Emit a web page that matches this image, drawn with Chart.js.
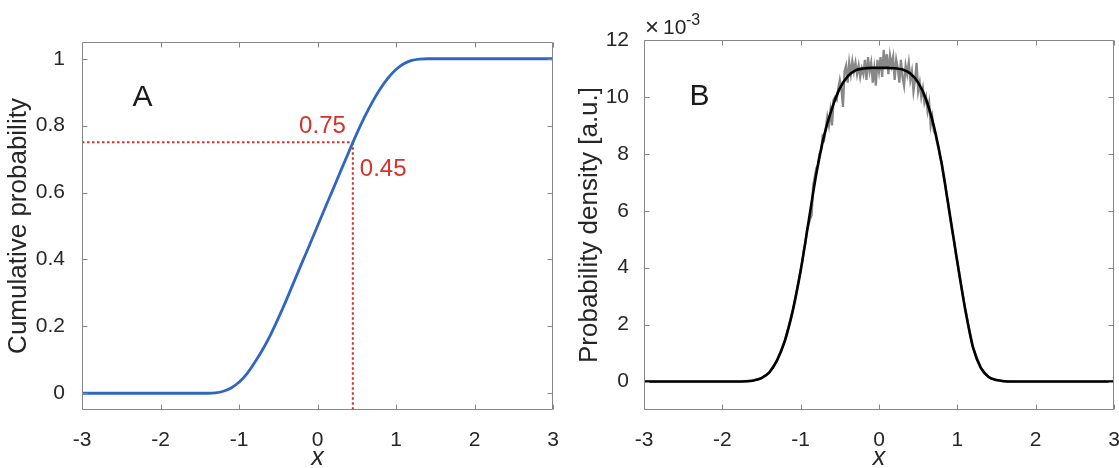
<!DOCTYPE html>
<html>
<head>
<meta charset="utf-8">
<script src="https://cdn.jsdelivr.net/npm/chart.js@4.4.1/dist/chart.umd.min.js"></script>
<style>
  html, body { margin: 0; padding: 0; background: #ffffff; }
  #wrap { position: relative; width: 1119px; height: 468px; background: #ffffff; overflow: hidden; }
  canvas { position: absolute; top: 0; }
</style>
</head>
<body>
<div id="wrap">
  <canvas id="chartA" width="560" height="468" style="left:0px"></canvas>
  <canvas id="chartB" width="559" height="468" style="left:560px"></canvas>
</div>
<script>
// ---------- data ----------
const xTicks = [-3, -2, -1, 0, 1, 2, 3];
const xRange = [-3, 3];

// Panel A: cumulative probability
const cdfX = [-3, -1.4, -1.3, -1.2, -1.1, -1.0, -0.9, -0.8, -0.7, -0.6, -0.5, -0.4, -0.3, -0.2, -0.1, 0,
              0.1, 0.2, 0.3, 0.4, 0.5, 0.6, 0.7, 0.8, 0.9, 1.0, 1.1, 1.2, 1.3, 1.4, 3];
const cdfY = [0, 0, 0.001, 0.006, 0.016, 0.033, 0.058, 0.092, 0.13, 0.174, 0.224, 0.277, 0.333, 0.389, 0.444, 0.5,
              0.556, 0.611, 0.667, 0.722, 0.776, 0.826, 0.871, 0.910, 0.943, 0.968, 0.985, 0.995, 0.999, 1, 1];
const yTicksA = [0, 0.2, 0.4, 0.6, 0.8, 1];
const yRangeA = [-0.05, 1.05];
const markX = 0.45;   // quantile
const markY = 0.75;   // probability

// Panel B: probability density (x 10^-3)
const pdfX = [-3, -1.8, -1.7, -1.6, -1.5, -1.4, -1.3, -1.2, -1.1, -1.0, -0.9, -0.8, -0.7, -0.6, -0.5, -0.4, -0.3, -0.2, -0.1, 0,
              0.1, 0.2, 0.3, 0.4, 0.5, 0.6, 0.7, 0.8, 0.9, 1.0, 1.1, 1.2, 1.3, 1.4, 1.5, 1.6, 1.7, 1.8, 3];
const pdfY = [0, 0, 0.01, 0.04, 0.12, 0.32, 0.75, 1.45, 2.5, 3.9, 5.6, 7.3, 8.65, 9.6, 10.3, 10.72, 10.93, 11.0, 11.02, 11.02,
              11.02, 11.01, 10.96, 10.82, 10.5, 9.92, 8.98, 7.65, 5.95, 4.2, 2.55, 1.2, 0.48, 0.16, 0.05, 0.01, 0, 0, 0];
// noisy histogram estimate, bins of 0.02 from -1.00 to 1.00
const histStart = -1.0;
const histStep = 0.02;
const histY = [3.9, 4.2, 4.6, 4.85, 5.3, 5.5, 5.7, 5.85, 6.9, 7.2,
               7.5, 7.6, 8.0, 8.1, 8.6, 8.5, 8.9, 9.3, 9.0, 9.5,
               9.0, 9.9, 10.0, 9.9, 10.3, 10.6, 10.3, 9.65, 10.9, 11.1,
               10.5, 11.2, 10.8, 11.25, 10.9, 11.2, 10.8, 11.1, 10.7, 11.0,
               10.8, 11.3, 10.6, 11.4, 10.9, 11.2, 10.5, 11.0, 10.4, 11.3,
               10.9, 11.4, 10.7, 11.65, 11.0, 11.5, 10.8, 11.45, 11.1, 11.4,
               10.6, 11.3, 11.0, 10.5, 11.3, 10.7, 10.4, 11.1, 10.8, 11.2,
               10.6, 10.9, 10.2, 10.6, 11.2, 10.2, 10.5, 10.0, 10.3, 9.8,
               10.0, 9.5, 9.8, 9.0, 9.3, 8.8, 8.7, 8.4, 8.2, 7.9,
               7.7, 7.3, 7.0, 6.6, 6.3, 5.9, 5.55, 5.2, 4.9, 4.5,
               4.2];
const yTicksB = [0, 2, 4, 6, 8, 10, 12];
const yRangeB = [-1, 12];

// ---------- style ----------
const FONT = "'Liberation Sans', Arial, Helvetica, sans-serif";
const AXIS_COLOR = '#868686';
const TEXT_COLOR = '#262626';
const RED = '#d9302c';

Chart.defaults.font.family = FONT;

const pts = (xs, ys) => xs.map((x, i) => ({ x: x, y: ys[i] }));

const framePlugin = {
  id: 'frame',
  afterDatasetsDraw(chart) {
    const { ctx, chartArea: a, scales: { x, y } } = chart;
    ctx.save();
    ctx.strokeStyle = AXIS_COLOR;
    ctx.lineWidth = 1;
    const L = Math.round(a.left) + 0.5, R = Math.round(a.right) - 0.5;
    const T = Math.round(a.top) + 0.5, B = Math.round(a.bottom) - 0.5;
    ctx.beginPath();
    ctx.rect(L, T, R - L, B - T);
    x.ticks.forEach(t => {
      const px = Math.round(x.getPixelForValue(t.value)) + 0.5;
      ctx.moveTo(px, B); ctx.lineTo(px, B - 5);
      ctx.moveTo(px, T); ctx.lineTo(px, T + 5);
    });
    y.ticks.forEach(t => {
      const py = Math.round(y.getPixelForValue(t.value)) + 0.5;
      ctx.moveTo(L, py); ctx.lineTo(L + 5, py);
      ctx.moveTo(R, py); ctx.lineTo(R - 5, py);
    });
    ctx.stroke();
    ctx.restore();
  }
};

const textPlugin = {
  id: 'texts',
  afterDraw(chart, args, opts) {
    const { ctx, scales: { x, y } } = chart;
    ctx.save();
    (opts.items || []).forEach(it => {
      ctx.font = it.font;
      ctx.fillStyle = it.color;
      ctx.textAlign = it.align || 'center';
      ctx.textBaseline = it.baseline || 'middle';
      const px = x.getPixelForValue(it.x) + (it.dx || 0);
      const py = y.getPixelForValue(it.y) + (it.dy || 0);
      ctx.fillText(it.text, px, py);
    });
    if (opts.exponent) {
      const a = chart.chartArea;
      ctx.textAlign = 'left';
      ctx.textBaseline = 'alphabetic';
      ctx.fillStyle = TEXT_COLOR;
      ctx.font = "24px " + FONT;
      ctx.fillText('\u00D7', a.left + 1, a.top - 5);
      ctx.font = "21px " + FONT;
      ctx.fillText('10', a.left + 19, a.top - 6);
      ctx.font = "16px " + FONT;
      ctx.fillText(opts.exponent, a.left + 42, a.top - 15);
    }
    ctx.restore();
  }
};

function makeScales(yTicks, yRange, yTitle, yAxisWidth, yTitlePad, yPad) {
  return {
    x: {
      type: 'linear', min: xRange[0], max: xRange[1],
      afterBuildTicks: s => { s.ticks = xTicks.map(v => ({ value: v })); },
      afterFit: s => { s.height = 58; s.paddingLeft = 0; s.paddingRight = 0; },
      grid: { display: false },
      border: { display: false },
      ticks: { color: TEXT_COLOR, font: { size: 21, lineHeight: 1.2 }, padding: 10, maxRotation: 0, autoSkip: false,
               callback: v => String(v) },
      title: { display: true, text: 'x', color: TEXT_COLOR,
               font: { size: 25, style: 'italic', lineHeight: 0.8 }, padding: { top: 0, bottom: 0 } }
    },
    y: {
      type: 'linear', min: yRange[0], max: yRange[1],
      afterBuildTicks: s => { s.ticks = yTicks.map(v => ({ value: v })); },
      afterFit: s => { s.width = yAxisWidth; s.paddingTop = 0; s.paddingBottom = 0; },
      grid: { display: false },
      border: { display: false },
      ticks: { color: TEXT_COLOR, font: { size: 21 }, padding: yPad, autoSkip: false, callback: v => String(v) },
      title: { display: true, text: yTitle, color: TEXT_COLOR,
               font: { size: 26, lineHeight: 1 }, padding: { top: yTitlePad, bottom: 0 } }
    }
  };
}

const common = {
  responsive: false,
  maintainAspectRatio: false,
  animation: false,
  devicePixelRatio: 1,
  events: [],
  elements: { point: { radius: 0 } },
};

// ---------- Chart A ----------
new Chart(document.getElementById('chartA'), {
  type: 'line',
  data: {
    datasets: [
      { data: pts(cdfX, cdfY), borderColor: '#3066c2', borderWidth: 2.8, cubicInterpolationMode: 'monotone', order: 0 },
      { data: [{ x: xRange[0], y: markY }, { x: markX, y: markY }], borderColor: RED, borderWidth: 2,
        borderDash: [2.5, 2.5], order: 1 },
      { data: [{ x: markX, y: markY }, { x: markX, y: yRangeA[0] }], borderColor: RED, borderWidth: 2,
        borderDash: [2.5, 2.5], order: 1 }
    ]
  },
  options: Object.assign({}, common, {
    layout: { padding: { left: 0, right: 7, top: 42, bottom: 0 } },
    scales: makeScales(yTicksA, yRangeA, 'Cumulative probability', 82, 6, 9),
    plugins: {
      legend: { display: false }, tooltip: { enabled: false },
      texts: {
        items: [
          { text: 'A', x: -2.23, y: 0.884, font: '30px ' + FONT, color: '#1a1a1a' },
          { text: String(markY), x: markX, y: markY, dx: -7, dy: -16, align: 'right', font: '24px ' + FONT, color: RED },
          { text: String(markX), x: markX, y: markY, dx: 7, dy: 27, align: 'left', font: '24px ' + FONT, color: RED }
        ]
      }
    }
  }),
  plugins: [framePlugin, textPlugin]
});

// ---------- Chart B ----------
const histPts = histY.map((v, i) => ({ x: +(histStart + i * histStep).toFixed(2), y: v }));
const histEnd = histStart + (histY.length - 1) * histStep;
const grayData = pts(pdfX, pdfY).filter(p => p.x < histStart - 1e-9)
  .concat(histPts)
  .concat(pts(pdfX, pdfY).filter(p => p.x > histEnd + 1e-9));

new Chart(document.getElementById('chartB'), {
  type: 'line',
  data: {
    datasets: [
      { data: pts(pdfX, pdfY), borderColor: '#000000', borderWidth: 2.6, cubicInterpolationMode: 'monotone', order: 0 },
      { data: grayData, borderColor: '#888888', borderWidth: 2.3, tension: 0, order: 1 }
    ]
  },
  options: Object.assign({}, common, {
    layout: { padding: { left: 0, right: 5, top: 40, bottom: 0 } },
    scales: makeScales(yTicksB, yRangeB, 'Probability density [a.u.]', 84, 17, 7),
    plugins: {
      legend: { display: false }, tooltip: { enabled: false },
      texts: {
        exponent: '-3',
        items: [
          { text: 'B', x: -2.29, y: 10.0, font: '30px ' + FONT, color: '#1a1a1a' }
        ]
      }
    }
  }),
  plugins: [framePlugin, textPlugin]
});
</script>
</body>
</html>
